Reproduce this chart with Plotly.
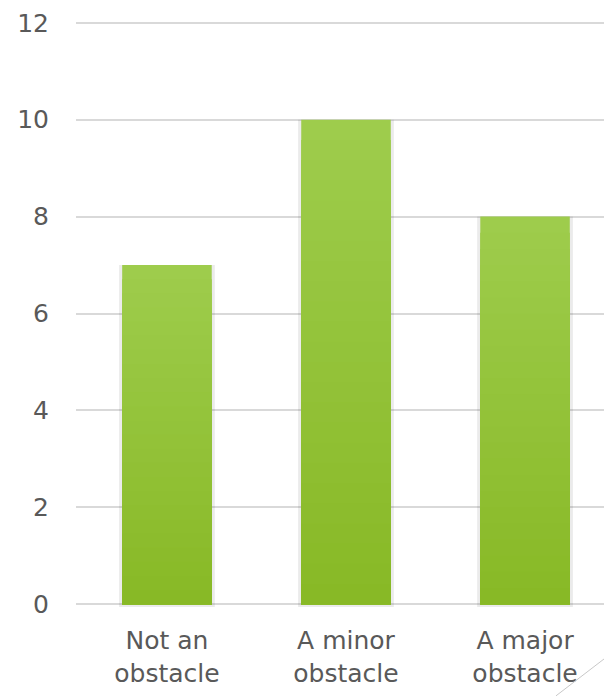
import plotly.graph_objects as go

categories = ["Not an<br>obstacle", "A minor<br>obstacle", "A major<br>obstacle"]
values = [7, 10, 8]
y_ticks = [0, 2, 4, 6, 8, 10, 12]

top_rgb = (158, 204, 76)
bot_rgb = (136, 185, 38)
N = 24

fig = go.Figure()

# soft shadow behind bars
fig.add_trace(go.Bar(
    x=categories, y=[v + 0.06 for v in values], base=-0.06,
    width=0.535, marker=dict(color="rgba(0,0,0,0.08)", line=dict(width=0)),
    hoverinfo="skip", showlegend=False))

# gradient bars (overlay slices, light at top, dark at bottom)
for k in range(N):
    frac = 1 - k / N
    t = k / (N - 1)
    r = round(top_rgb[0] + (bot_rgb[0] - top_rgb[0]) * t)
    g = round(top_rgb[1] + (bot_rgb[1] - top_rgb[1]) * t)
    b = round(top_rgb[2] + (bot_rgb[2] - top_rgb[2]) * t)
    fig.add_trace(go.Bar(
        x=categories, y=[v * frac for v in values],
        width=0.5, marker=dict(color=f"rgb({r},{g},{b})", line=dict(width=0)),
        hoverinfo="skip", showlegend=False))

FONT = "DejaVu Sans"

fig.update_layout(
    width=604, height=696,
    margin=dict(l=76, r=0, t=18, b=87, autoexpand=False),
    paper_bgcolor="white", plot_bgcolor="white",
    barmode="overlay",
    font=dict(family=FONT, size=25, color="#595959"),
    showlegend=False,
    xaxis=dict(
        range=[-0.508, 2.441], showgrid=False, zeroline=False,
        showline=False, ticks="", ticklabelstandoff=14, automargin=False,
        tickfont=dict(family=FONT, size=25, color="#595959"),
    ),
    yaxis=dict(
        range=[-0.1, 12.1], tickvals=y_ticks, showgrid=True,
        gridcolor="#D9D9D9", gridwidth=1.5, zeroline=False,
        showline=False, ticks="", ticklabelstandoff=26, automargin=False,
        tickfont=dict(family=FONT, size=25, color="#595959"),
    ),
    shapes=[dict(type="line", xref="paper", yref="paper",
                 x0=0.909, y0=-0.147, x1=1.0, y1=-0.0846,
                 line=dict(color="#C8C8C8", width=1))],
)

fig.write_html(
    "out.html",
    config={"displayModeBar": False},
    post_script="document.body.style.margin='0';document.body.style.padding='0';",
)
